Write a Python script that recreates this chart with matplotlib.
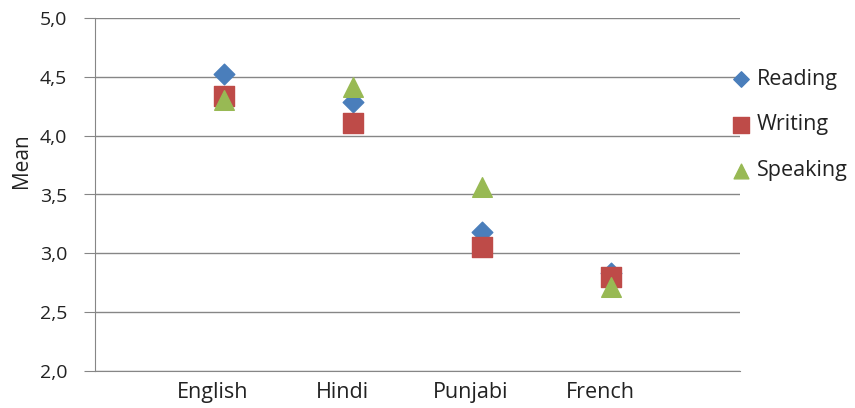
import matplotlib
matplotlib.use("Agg")
import matplotlib.pyplot as plt
import matplotlib.transforms as mtransforms
from matplotlib.ticker import FuncFormatter

plt.rcParams['font.family'] = ['Open Sans', 'DejaVu Sans']

languages = ["English", "Hindi", "Punjabi", "French"]
reading = [4.52, 4.29, 3.18, 2.83]
writing = [4.34, 4.11, 3.05, 2.80]
speaking = [4.30, 4.41, 3.56, 2.71]

x = [1, 2, 3, 4]

fig = plt.figure(figsize=(8.55, 4.08), dpi=100)
ax = fig.add_axes([95/855, 37/408, 645/855, 353/408])

ax.scatter(x, reading, marker="D", s=110, color="#4a7ebb", label="Reading", zorder=3)
ax.scatter(x, writing, marker="s", s=210, color="#be4b48", label="Writing", zorder=3)
ax.scatter(x, speaking, marker="^", s=200, color="#98b954", label="Speaking", zorder=3)

ax.set_xlim(0, 5)
ax.set_ylim(2.0, 5.0)
ax.set_yticks([2.0, 2.5, 3.0, 3.5, 4.0, 4.5, 5.0])
ax.yaxis.set_major_formatter(FuncFormatter(lambda v, p: f"{v:.1f}".replace(".", ",")))
ax.set_xticks(x)
ax.set_xticklabels(languages)
ax.tick_params(axis="x", length=0, labelsize=15.5, pad=8, labelcolor="#222222")
ax.tick_params(axis="y", length=8, direction="out", color="#868686", labelsize=14,
               pad=12, labelcolor="#222222")
# shift category labels slightly left, like the original
shift = mtransforms.ScaledTranslation(-11/100, 0, fig.dpi_scale_trans)
for lbl in ax.get_xticklabels():
    lbl.set_transform(lbl.get_transform() + shift)
ax.yaxis.grid(True, color="#868686", linewidth=1)
ax.set_axisbelow(True)
for s in ["top", "right"]:
    ax.spines[s].set_visible(False)
for s in ["left", "bottom"]:
    ax.spines[s].set_color("#868686")
ax.set_ylabel("Mean", fontsize=15, color="#222222")
ax.yaxis.set_label_coords(-0.097, 0.595)

ax.legend(loc="center left", bbox_to_anchor=(0.986, 0.697), frameon=False, fontsize=15.5,
          handlelength=0.9, handletextpad=0.3, labelspacing=1.15, borderaxespad=0,
          borderpad=0, markerscale=0.75, labelcolor="#222222")

fig.savefig("out.png", dpi=100)
